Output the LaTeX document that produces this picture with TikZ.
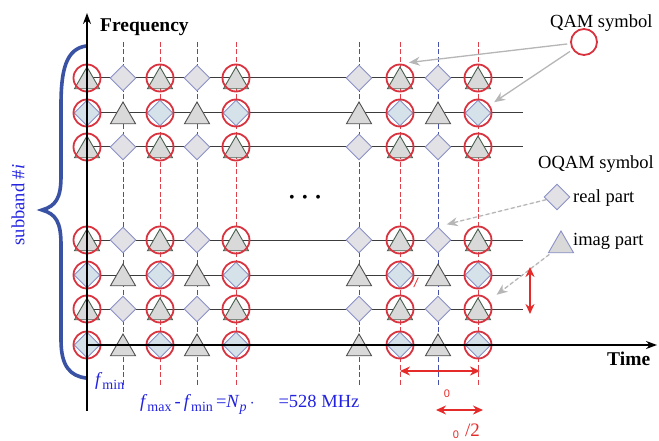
\documentclass[tikz,border=0pt]{standalone}
\usepackage{fontspec}
\setmainfont{Liberation Serif}
\setsansfont{Liberation Sans}
\usepackage{tikz}
\usetikzlibrary{positioning,arrows.meta,shapes.geometric,calc}
\definecolor{gqamred}{HTML}{D8333F}
\definecolor{gredline}{HTML}{E0404A}
\definecolor{gblueline}{HTML}{4652AA}
\definecolor{gdiafill}{HTML}{E1E1E6}
\definecolor{gdialine}{HTML}{8A90C6}
\definecolor{gtrifill}{HTML}{D9D9D9}
\definecolor{gtriline}{HTML}{505050}
\definecolor{gincfill}{HTML}{D6E2EA}
\definecolor{gincline}{HTML}{4A6050}
\definecolor{gpointer}{HTML}{B6B6B6}
\definecolor{gtext}{HTML}{2222E0}
\definecolor{gbrace}{HTML}{3A52A4}
\definecolor{growline}{HTML}{3C3C3C}
\definecolor{gannot}{HTML}{E52A2A}
\newcommand{\gsub}[1]{\raisebox{-4pt}{\fontsize{14}{14}\selectfont #1}}
\tikzset{gqam/.style={circle, draw=gqamred, line width=1.8pt, minimum size=27pt, inner sep=0pt}}
\tikzset{greal/.style={diamond, draw=gdialine, fill=gdiafill, line width=0.9pt, minimum width=26pt, minimum height=26pt, inner sep=0pt}}
\tikzset{gimag/.style={regular polygon, regular polygon sides=3, draw=gtriline, fill=gtrifill, line width=0.9pt, minimum size=29pt, inner sep=0pt, yshift=-3.5pt}}
\tikzset{gqreal/.style={greal, fill=gincfill}}
\tikzset{gqimag/.style={gimag, draw=gincline}}
\tikzset{gdashred/.style={draw=gredline, line width=1pt, dash pattern=on 5pt off 2.5pt}}
\tikzset{gdashblue/.style={draw=gblueline, line width=1pt, dash pattern=on 5pt off 2.5pt}}
\tikzset{growl/.style={draw=growline, line width=1pt}}
\tikzset{gaxis/.style={-{Stealth[length=11pt, width=8pt]}, draw=black, line width=1.6pt}}
\tikzset{gpoint/.style={-{Stealth[length=11pt, width=9pt]}, draw=gpointer, fill=gpointer, line width=1.3pt}}
\tikzset{gdim/.style={{Stealth[length=10pt, width=9pt]}-{Stealth[length=10pt, width=9pt]}, draw=gannot, line width=1.9pt}}
\tikzset{glabel/.style={font=\fontsize{18.5}{22}\selectfont, inner sep=0pt, anchor=base west}}
\tikzset{gbold/.style={glabel, font=\fontsize{19.5}{22}\selectfont\bfseries}}
\tikzset{gblue/.style={glabel, text=gtext}}
\tikzset{gred/.style={text=gannot, inner sep=0pt}}

\begin{document}
\begin{tikzpicture}[x=1pt, y=-1pt]
  \useasboundingbox (0,0) rectangle (659,441);

  \foreach \xc in {123,197,359,438}
    \draw[gdashblue] (\xc,42) -- (\xc,385);
  \foreach \xc in {160,236,400,478}
    \draw[gdashred] (\xc,42) -- (\xc,385);
  \foreach \yr in {78,113,147,240,275,309}
    \draw[growl] (87,\yr) -- (523,\yr);

  \foreach \yr/\ty [count=\rn] in {78/1,113/0,147/1,240/1,275/0,309/1,345/0}
    \foreach \xc/\qm [count=\cn] in {87/1,123/0,160/1,197/0,236/1,359/0,400/1,438/0,478/1}{
      \ifnum\qm=1
        \ifnum\ty=1 \node[gqimag] (s-\rn-\cn) at (\xc,\yr) {}; \else \node[gqreal] (s-\rn-\cn) at (\xc,\yr) {}; \fi
        \node[gqam] (q-\rn-\cn) at (\xc,\yr) {};
      \else
        \ifnum\ty=0 \node[gimag] (s-\rn-\cn) at (\xc,\yr) {}; \else \node[greal] (s-\rn-\cn) at (\xc,\yr) {}; \fi
      \fi
    }

  \draw[gbrace, line width=3.6pt, line cap=round] (86,46) .. controls (66,49) and (61,70) .. (61,105) -- (61,176) .. controls (61,198) and (56,206) .. (42,210) .. controls (56,214) and (61,222) .. (61,245) -- (61,340) .. controls (61,366) and (70,376) .. (86,378);
  \node[gblue, rotate=90, anchor=center] (subband) at (18,205) {subband \#\textit{i}};

  \coordinate (origin) at (87,345);
  \coordinate (ftop) at (87,13);
  \coordinate (fbot) at (87,411);
  \coordinate (tend) at (657,345);
  \draw[gaxis] (fbot) -- (ftop);
  \draw[gaxis] (origin) -- (tend);
  \node[gbold] (freq) at (100,32) {Frequency};
  \node[gbold] (time) at (607,365) {Time};

  \node[inner sep=0pt, font=\fontsize{16}{16}\selectfont] (dots) at (305,199) {\textbullet\hspace{7.5pt}\textbullet\hspace{7.5pt}\textbullet};

  \node[gblue] (fmin) at (95,385) {\textit{f}\gsub{min}};
  \node[gblue] (bw) at (140,407) {\textit{f}\gsub{max}\,-\,\textit{f}\gsub{min}\,=\textit{N}\gsub{\textit{p}}\,$\cdot$\hspace{24pt}=528 MHz};

  \node[glabel] (qamtxt) at (550,28) {QAM symbol};
  \node[gqam, minimum size=26pt] (qamkey) at (584,42) {};
  \node[glabel] (oqamtxt) at (538,168) {OQAM symbol};
  \node[greal] (realkey) at (557,197) {};
  \node[glabel] (realtxt) at (573,202) {real part};
  \node[gimag, draw=gdialine] (imagkey) at (561,242) {};
  \node[glabel] (imagtxt) at (573,245) {imag part};

  \draw[gpoint, shorten <=3pt, shorten >=9pt] (qamkey) -- (q-1-7.north);
  \draw[gpoint, shorten <=3pt, shorten >=5pt] (qamkey) -- (q-2-9);
  \draw[gpoint, dash pattern=on 4pt off 2.5pt, shorten >=9pt] (realkey) -- (s-4-8.north);
  \draw[gpoint, dash pattern=on 4pt off 2.5pt, shorten <=2pt, shorten >=9pt] (imagkey) -- (q-6-9);

  \coordinate (dfup) at (530,267);
  \coordinate (dfdn) at (530,314);
  \draw[gdim] (dfup) -- (dfdn);
  \node[gred, font=\fontsize{13}{13}\selectfont\sffamily\itshape] (slash) at (416,283) {/};

  \coordinate (dta) at (400,371);
  \coordinate (dtb) at (480,371);
  \draw[gdim] (dta) -- (dtb);
  \node[gred, font=\fontsize{11}{11}\selectfont\sffamily] (zeroa) at (447,394) {0};

  \coordinate (dtc) at (436,410);
  \coordinate (dtd) at (483,410);
  \draw[gdim] (dtc) -- (dtd);
  \node[gred, font=\fontsize{11}{11}\selectfont\sffamily] (zerob) at (456,435) {0};
  \node[gred, font=\fontsize{19}{19}\selectfont, anchor=base west] (halfb) at (465,436) {/2};
\end{tikzpicture}
\end{document}
